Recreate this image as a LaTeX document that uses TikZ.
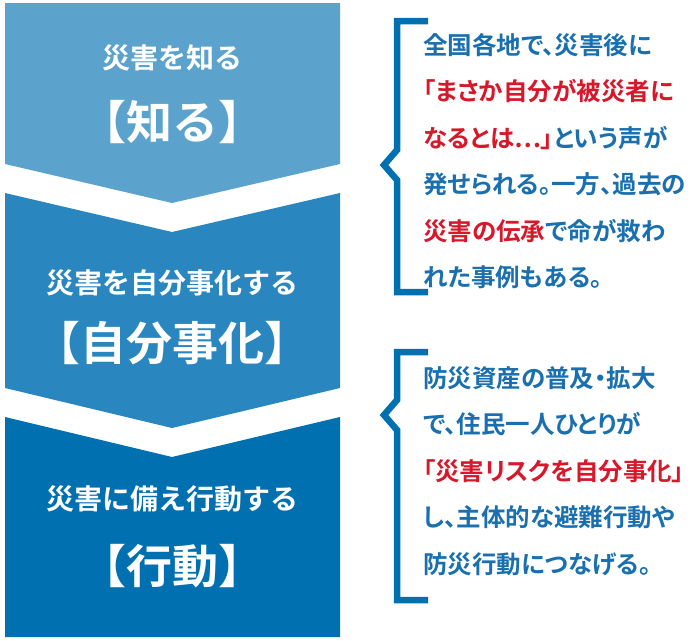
\documentclass[tikz,border=0pt]{standalone}
\usepackage{fontspec}
\newfontfamily\jpfont{Noto Sans CJK JP Bold}
\newfontfamily\notefont[RawFeature=+palt]{Noto Sans CJK JP Bold}
\definecolor{lightblue}{HTML}{5BA3CC}
\definecolor{midblue}{HTML}{2A86BE}
\definecolor{darkblue}{HTML}{0070B0}
\definecolor{textblue}{HTML}{1A6FAF}
\definecolor{textred}{HTML}{D7182A}
\tikzset{
  small/.style={text=white,font=\jpfont\fontsize{28}{30}\selectfont},
  big/.style={text=white,font=\jpfont\fontsize{46}{48}\selectfont},
  note/.style={anchor=north west,text=textblue,align=left,inner sep=0pt,
    font=\notefont\fontsize{24.5}{46.5}\selectfont},
  brace/.style={darkblue,line width=6.5pt}
}
\newcommand{\hl}[1]{\textcolor{textred}{#1}}
\begin{document}
\begin{tikzpicture}[x=1pt,y=-1pt]
	\useasboundingbox (0,0) rectangle (698,640);
	%STEPS
	\fill[lightblue] (5,3)--(340,3)--(340,164)--(172,203)--(5,164)--cycle;
	\fill[midblue] (5,193)--(172,232)--(340,193)--(340,388)--(172,428)--(5,388)--cycle;
	\fill[darkblue] (5,417)--(172,457)--(340,417)--(340,637)--(5,637)--cycle;
	%
	\node[small] (know) at (172,58) {災害を知る};
	\node[big] (knowb) at (172,122) {【知る】};
	\node[small] (own) at (172,283) {災害を自分事化する};
	\node[big] (ownb) at (172,343) {【自分事化】};
	\node[small] (act) at (172,499) {災害に備え行動する};
	\node[big] (actb) at (172,566) {【行動】};

	%BRACKETS
	\draw[brace] (428,21)--(397,21)--(397,150)--(384,165)--(397,180)--(397,292)--(428,292);
	\draw[brace] (428,352)--(397,352)--(397,400)--(384,415)--(397,430)--(397,600)--(428,600);

	%NOTES
	\node[note] (past) at (423,33) {全国各地で、災害後に\\
		\hl{「まさか自分が被災者に}\\
		\hl{なるとは…」}という声が\\
		発せられる。一方、過去の\\
		\hl{災害の伝承}で命が救わ\\
		れた事例もある。};
	\node[note] (plan) at (423,366) {防災資産の普及・拡大\\
		で、住民一人ひとりが\\
		\hl{「災害リスクを自分事化」}\\
		し、主体的な避難行動や\\
		防災行動につなげる。};
\end{tikzpicture}
\end{document}
